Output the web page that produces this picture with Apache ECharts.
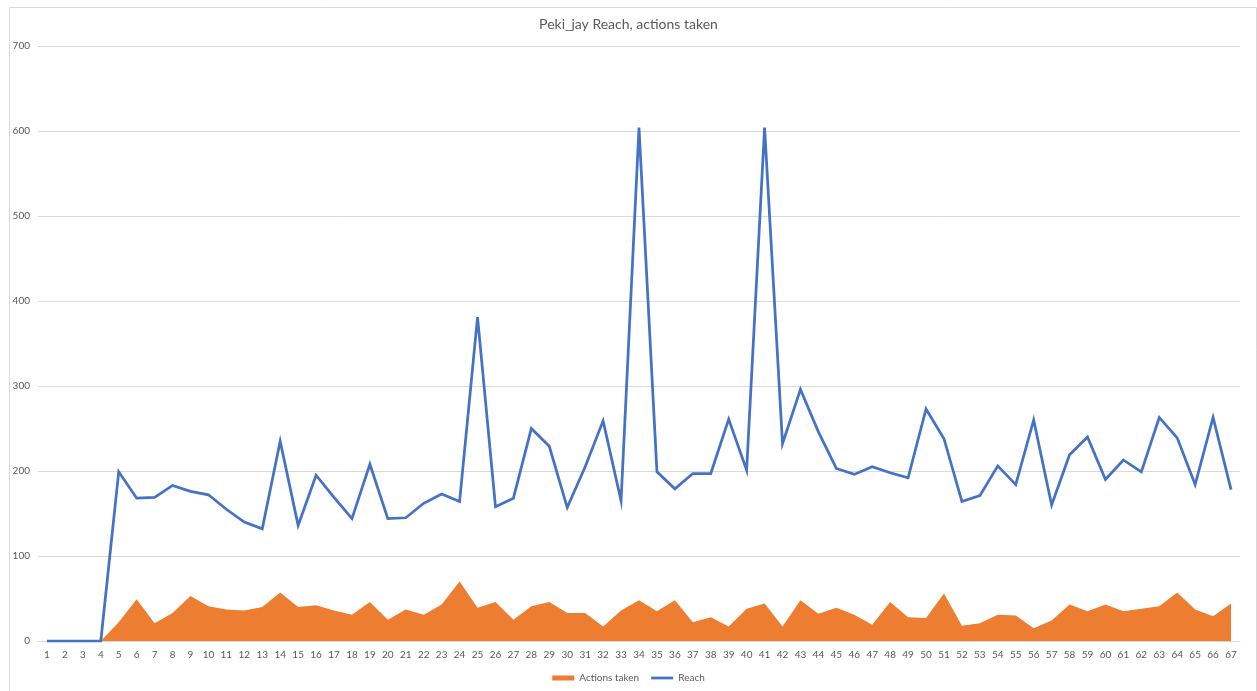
<!DOCTYPE html>
<html>
<head>
<meta charset="utf-8">
<script src="https://cdn.jsdelivr.net/npm/echarts@6/dist/echarts.min.js"></script>
<style>
  html, body { margin: 0; padding: 0; background: #ffffff; }
  #chart { width: 1257px; height: 691px; }
</style>
</head>
<body>
<div id="chart"></div>
<script>
// Day numbers along the x axis
const days = Array.from({ length: 67 }, (_, i) => String(i + 1));

// Reach per day
const reach = [
  0, 0, 0, 0, 199, 168, 169, 183, 176, 172,
  155, 140, 132, 235, 136, 195, 169, 144, 208, 144,
  145, 162, 173, 164, 381, 158, 168, 250, 229, 157,
  205, 259, 165, 604, 199, 179, 197, 197, 261, 201,
  604, 232, 296, 246, 203, 196, 205, 198, 192, 273,
  238, 164, 171, 206, 184, 260, 160, 219, 240, 190,
  213, 199, 263, 239, 184, 263, 178
];

// Actions taken per day
const actions = [
  0, 0, 0, 0, 22, 49, 21, 33, 53, 41,
  37, 36, 40, 57, 40, 42, 36, 31, 46, 25,
  37, 31, 43, 70, 39, 46, 25, 41, 46, 33,
  33, 17, 36, 48, 35, 48, 22, 28, 17, 38,
  44, 17, 48, 32, 39, 31, 19, 46, 28, 27,
  56, 18, 21, 31, 30, 15, 24, 43, 35, 43,
  35, 38, 41, 57, 37, 29, 44
];

const yTicks = { min: 0, max: 700, step: 100 };

const textColor = '#595959';
const fontFamily = 'Lato, "Open Sans", sans-serif';

const chart = echarts.init(document.getElementById('chart'), null, { renderer: 'canvas' });

chart.setOption({
  animation: false,
  backgroundColor: '#ffffff',
  textStyle: { fontFamily: fontFamily },
  graphic: [{
    type: 'rect',
    left: 7, top: 5,
    shape: { width: 1247, height: 700 },
    style: { fill: 'none', stroke: '#d9d9d9', lineWidth: 1 },
    silent: true
  }],
  title: {
    text: 'Peki_jay Reach, actions taken',
    left: 'center',
    top: 12,
    textStyle: { color: textColor, fontSize: 14, fontWeight: 'normal', fontFamily: fontFamily }
  },
  legend: {
    bottom: 3,
    left: 'center',
    itemGap: 12,
    itemWidth: 22,
    itemHeight: 5,
    textStyle: { color: textColor, fontSize: 10, fontFamily: fontFamily },
    data: [
      { name: 'Actions taken', icon: 'rect' },
      { name: 'Reach', icon: 'path://M0,0 L24,0 L24,3 L0,3 Z' }
    ]
  },
  grid: { left: 38, right: 17, top: 46, bottom: 50 },
  xAxis: {
    type: 'category',
    data: days,
    boundaryGap: true,
    axisLine: { show: true, lineStyle: { color: '#d9d9d9', width: 1 } },
    axisTick: { show: false },
    axisLabel: { color: textColor, fontSize: 10, margin: 9, interval: 0, fontFamily: fontFamily },
    splitLine: { show: false }
  },
  yAxis: {
    type: 'value',
    min: yTicks.min,
    max: yTicks.max,
    interval: yTicks.step,
    axisLine: { show: false },
    axisTick: { show: false },
    axisLabel: { color: textColor, fontSize: 10, margin: 8, fontFamily: fontFamily },
    splitLine: { show: true, lineStyle: { color: '#d9d9d9', width: 1 } }
  },
  series: [
    {
      name: 'Actions taken',
      type: 'line',
      data: actions,
      symbol: 'none',
      color: '#ED7D31',
      lineStyle: { width: 0, color: '#ED7D31' },
      areaStyle: { color: '#ED7D31', opacity: 1 },
      z: 2
    },
    {
      name: 'Reach',
      type: 'line',
      data: reach,
      symbol: 'none',
      color: '#4472C4',
      lineStyle: { width: 2.75, color: '#4472C4', join: 'miter' },
      z: 3
    }
  ]
});
</script>
</body>
</html>
